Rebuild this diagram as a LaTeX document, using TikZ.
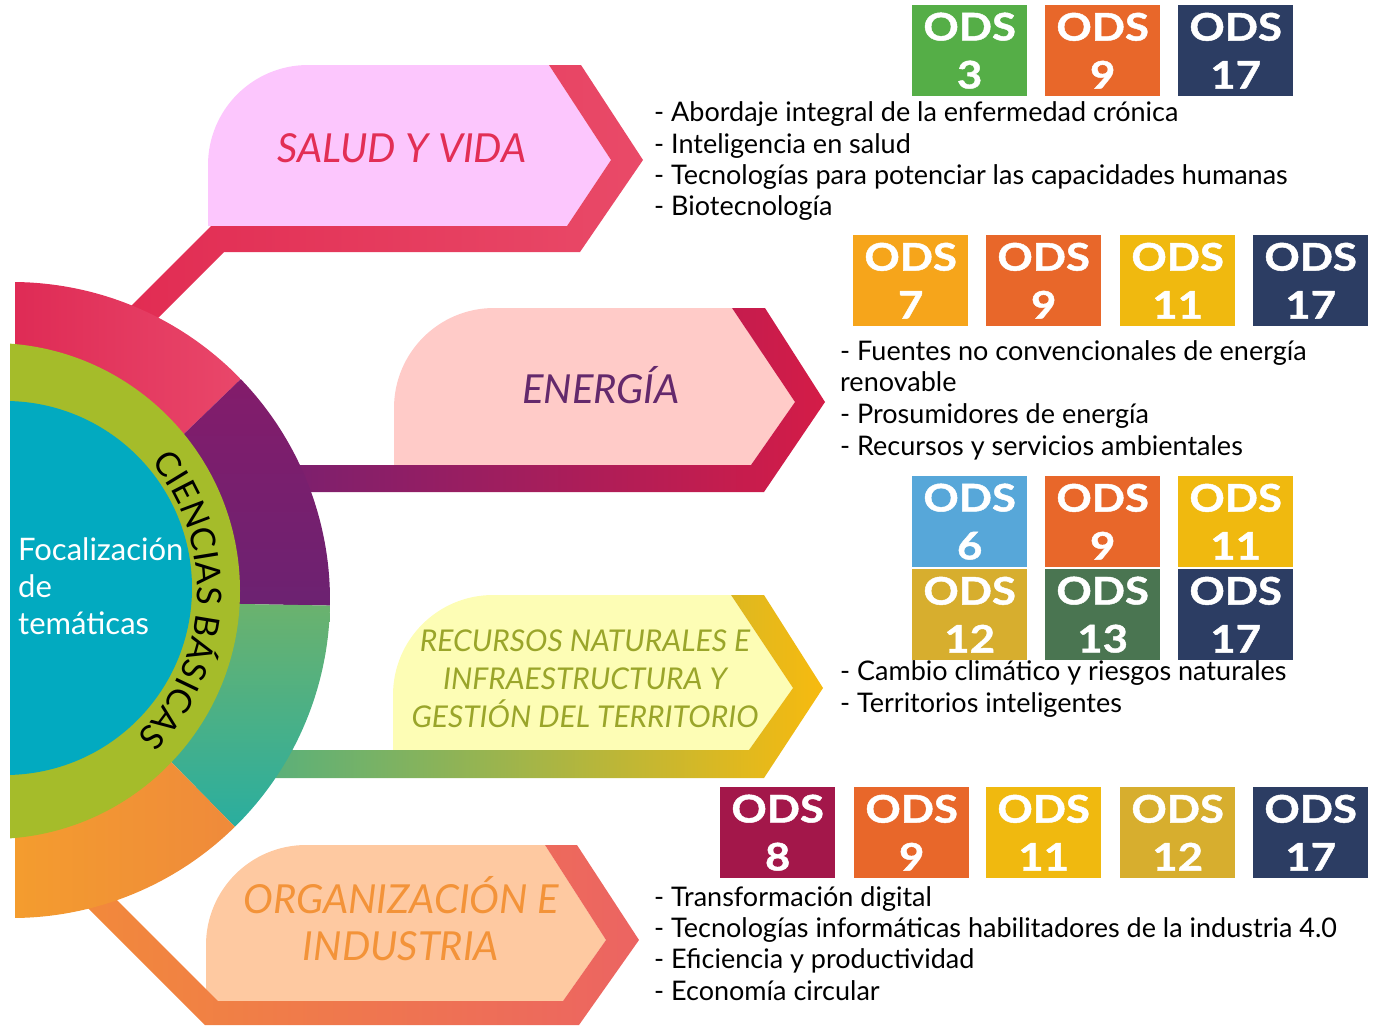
\documentclass[tikz,border=0pt]{standalone}
\usepackage{fontspec}
\setmainfont{Lato}
\newfontfamily\odsfont[FakeStretch=1.15,FakeBold=1.2]{Lato}
\usetikzlibrary{decorations.text}
\definecolor{odsgreen}{HTML}{55AE47}
\definecolor{odsorange}{HTML}{E8672A}
\definecolor{odsnavy}{HTML}{2C3D63}
\definecolor{odsseven}{HTML}{F6A51B}
\definecolor{odseleven}{HTML}{F0B90F}
\definecolor{odssix}{HTML}{57A7D9}
\definecolor{odstwelve}{HTML}{D7AE2E}
\definecolor{odsthirteen}{HTML}{4A7551}
\definecolor{odseight}{HTML}{A3174A}
\definecolor{redA}{HTML}{DC2450}
\definecolor{redB}{HTML}{E9476A}
\definecolor{purA}{HTML}{831C6B}
\definecolor{purB}{HTML}{6C2271}
\definecolor{tealA}{HTML}{6CB26D}
\definecolor{tealB}{HTML}{2AAE9F}
\definecolor{orA}{HTML}{F5A12B}
\definecolor{orB}{HTML}{EF8A3B}
\definecolor{ringgreen}{HTML}{A5BC2A}
\definecolor{ringcyan}{HTML}{02AAC0}
\definecolor{barredA}{HTML}{E12B52}
\definecolor{barredB}{HTML}{E94A68}
\definecolor{barpurA}{HTML}{7C1F6E}
\definecolor{barpurB}{HTML}{D41C47}
\definecolor{bargrnA}{HTML}{5AB07A}
\definecolor{bargrnB}{HTML}{F7BA0F}
\definecolor{barorA}{HTML}{F28A3A}
\definecolor{barorB}{HTML}{EC6462}
\definecolor{fillsalud}{HTML}{FCC6FD}
\definecolor{fillenergia}{HTML}{FFCBC8}
\definecolor{fillrecursos}{HTML}{FDFDB5}
\definecolor{fillorg}{HTML}{FEC9A1}
\definecolor{txtsalud}{HTML}{E22E55}
\definecolor{txtenergia}{HTML}{64296C}
\definecolor{txtrecursos}{HTML}{9AA52A}
\definecolor{txtorg}{HTML}{F39339}
\begin{document}
\begin{tikzpicture}[x=1pt,y=-1pt,
  odsbox/.style={fill=#1, text=white, minimum width=115pt, minimum height=91pt,
    inner sep=0pt, align=center, anchor=north west,
    font=\odsfont\fontsize{38}{48}\selectfont\bfseries},
  item/.style={anchor=base west, inner sep=0pt, font=\fontsize{27}{31}\selectfont},
  titletext/.style={anchor=base, inner sep=0pt, font=\fontsize{40}{46}\selectfont\itshape},
  smalltitle/.style={anchor=base, inner sep=0pt, font=\fontsize{30}{37}\selectfont\itshape},
  centertext/.style={anchor=base west, inner sep=0pt, text=white, font=\fontsize{31}{37}\selectfont}]
\useasboundingbox (0,0) rectangle (1376,1026);

% ---------- light shapes ----------
\fill[fillsalud] (208,226) -- (208,165) arc[start angle=180, end angle=270, radius=100] -- (549,65) -- (611,160) -- (567,226) -- cycle;
\fill[fillenergia] (394,465) -- (394,408) arc[start angle=180, end angle=270, radius=100] -- (732,308) -- (795,402) -- (751,465) -- cycle;
\fill[fillrecursos] (393,750) -- (393,695) arc[start angle=180, end angle=270, radius=100] -- (731,595) -- (793,688) -- (749,750) -- cycle;
\fill[fillorg] (206,1001) -- (206,945) arc[start angle=180, end angle=270, radius=100] -- (545,845) -- (606,940) -- (563,1001) -- cycle;

% ---------- connector frames ----------
\shade[left color=barredA, right color=barredB] (107,330) -- (211,226) -- (567,226) -- (611,160) -- (549,65) -- (581,65) -- (643,160) -- (580,252) -- (224,252) -- (116,360) -- cycle;
\shade[left color=barpurA, right color=barpurB] (290,465) -- (751,465) -- (795,402) -- (732,308) -- (765,308) -- (825,402) -- (764,492) -- (290,492) -- cycle;
\shade[left color=bargrnA, right color=bargrnB] (270,750) -- (749,750) -- (793,688) -- (731,595) -- (764,595) -- (823,688) -- (764,778) -- (270,778) -- cycle;
\shade[left color=barorA, right color=barorB] (70,890) -- (205,1025) -- (579,1025) -- (639,940) -- (577,845) -- (545,845) -- (606,940) -- (563,1001) -- (218,1001) -- (100,883) -- cycle;

% ---------- ring ----------
\begin{scope}
\clip (15,0) rectangle (400,1026);
\shade[left color=redA, right color=redB] (12,600) -- ++(-44:318) arc[start angle=-44, end angle=-100, radius=318] -- cycle;
\shade[top color=purA, bottom color=purB] (12,600) -- ++(1:318) arc[start angle=1, end angle=-44, radius=318] -- cycle;
\shade[top color=tealA, bottom color=tealB] (12,600) -- ++(45.5:318) arc[start angle=45.5, end angle=1, radius=318] -- cycle;
\shade[left color=orA, right color=orB] (12,600) -- ++(100:318) arc[start angle=100, end angle=45.5, radius=318] -- cycle;
\end{scope}
\begin{scope}
\clip (10,0) rectangle (400,1026);
\fill[ringgreen] (-8,591) circle[radius=248];
\fill[ringcyan] (5,588) circle[radius=187];
\end{scope}
\path[decorate, font=\fontsize{34}{34}\selectfont, decoration={text along path, text align={fit to path},
  text={|\fontsize{34}{34}\selectfont|CIENCIAS BÁSICAS}}]
  (-8,591) ++(-39:205) arc[start angle=-39, end angle=45, radius=205];

\node[centertext] (foc1) at (18,560) {Focalización};
\node[centertext] (foc2) at (18,597) {de};
\node[centertext] (foc3) at (18,634) {temáticas};

% ---------- titles ----------
\node[titletext, text=txtsalud] (tsalud) at (402,162) {SALUD Y VIDA};
\node[titletext, text=txtenergia] (tenergia) at (601,403) {ENERGÍA};
\node[smalltitle, text=txtrecursos] (trec1) at (585,651) {RECURSOS NATURALES E};
\node[smalltitle, text=txtrecursos] (trec2) at (585,689) {INFRAESTRUCTURA Y};
\node[smalltitle, text=txtrecursos] (trec3) at (585,727) {GESTIÓN DEL TERRITORIO};
\node[titletext, text=txtorg] (torg1) at (401,913) {ORGANIZACIÓN E};
\node[titletext, text=txtorg] (torg2) at (401,960) {INDUSTRIA};

% ---------- ODS boxes ----------
\node[odsbox=odsgreen] (a3) at (912,5) {ODS\\3};
\node[odsbox=odsorange] (a9) at (1045,5) {ODS\\9};
\node[odsbox=odsnavy] (a17) at (1178,5) {ODS\\17};

\node[odsbox=odsseven] (b7) at (853,235) {ODS\\7};
\node[odsbox=odsorange] (b9) at (986,235) {ODS\\9};
\node[odsbox=odseleven] (b11) at (1120,235) {ODS\\11};
\node[odsbox=odsnavy] (b17) at (1253,235) {ODS\\17};

\node[odsbox=odssix] (c6) at (912,476) {ODS\\6};
\node[odsbox=odsorange] (c9) at (1045,476) {ODS\\9};
\node[odsbox=odseleven] (c11) at (1178,476) {ODS\\11};
\node[odsbox=odstwelve] (c12) at (912,569) {ODS\\12};
\node[odsbox=odsthirteen] (c13) at (1045,569) {ODS\\13};
\node[odsbox=odsnavy] (c17) at (1178,569) {ODS\\17};

\node[odsbox=odseight] (d8) at (720,787) {ODS\\8};
\node[odsbox=odsorange] (d9) at (854,787) {ODS\\9};
\node[odsbox=odseleven] (d11) at (986,787) {ODS\\11};
\node[odsbox=odstwelve] (d12) at (1120,787) {ODS\\12};
\node[odsbox=odsnavy] (d17) at (1253,787) {ODS\\17};

% ---------- lists ----------
\node[item] (s1) at (654,121) {- Abordaje integral de la enfermedad crónica};
\node[item] (s2) at (654,153) {- Inteligencia en salud};
\node[item] (s3) at (654,184) {- Tecnologías para potenciar las capacidades humanas};
\node[item] (s4) at (654,215) {- Biotecnología};

\node[item] (e1) at (840,360) {- Fuentes no convencionales de energía};
\node[item] (e2) at (840,391) {renovable};
\node[item] (e3) at (840,423) {- Prosumidores de energía};
\node[item] (e4) at (840,455) {- Recursos y servicios ambientales};

\node[item] (r1) at (840,680) {- Cambio climático y riesgos naturales};
\node[item] (r2) at (840,712) {- Territorios inteligentes};

\node[item] (o1) at (654,906) {- Transformación digital};
\node[item] (o2) at (654,937) {- Tecnologías informáticas habilitadores de la industria 4.0};
\node[item] (o3) at (654,968) {- Eficiencia y productividad};
\node[item] (o4) at (654,1000) {- Economía circular};
\end{tikzpicture}
\end{document}
